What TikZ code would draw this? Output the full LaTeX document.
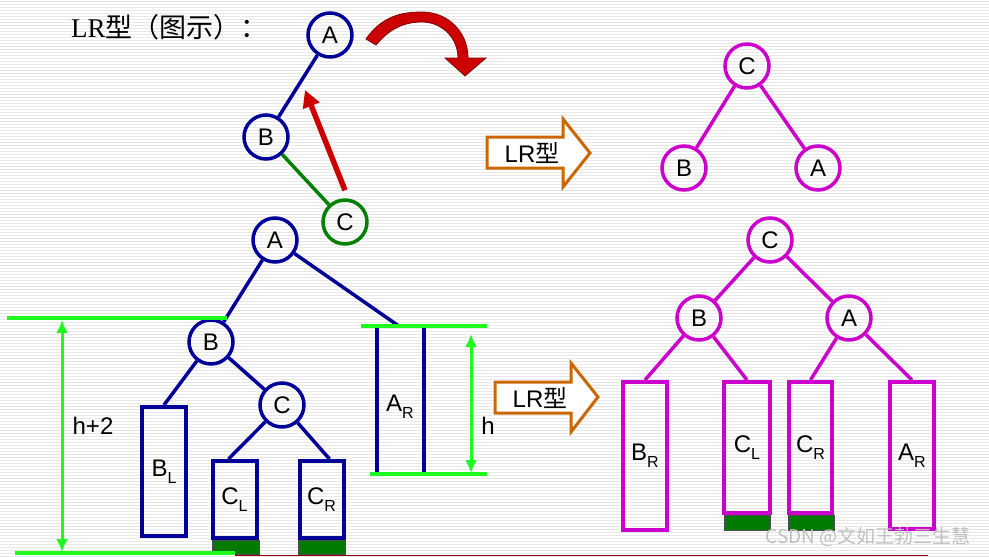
\documentclass[tikz,border=0pt]{standalone}
\usepackage{fontspec}
\setmainfont{Liberation Sans}
\newfontfamily\serifl{Liberation Serif}
\newfontfamily\cjk{Noto Sans CJK SC}
\usetikzlibrary{arrows.meta}
\definecolor{navy}{RGB}{0,0,153}
\definecolor{dgreen}{RGB}{0,128,0}
\definecolor{fgreen}{RGB}{0,122,0}
\definecolor{lime}{RGB}{30,250,30}
\definecolor{orng}{RGB}{204,102,0}
\definecolor{mag}{RGB}{204,0,204}
\definecolor{redd}{RGB}{204,0,0}
\definecolor{dred}{RGB}{130,0,0}
\newcommand\lbl{\fontsize{24}{26}\selectfont}
\newcommand\sbs[1]{\raisebox{-0.28em}{\fontsize{16}{16}\selectfont #1}}
\tikzset{
  bcirc/.style={circle, draw=navy, line width=3.5pt, minimum size=44pt, inner sep=0pt, font=\lbl},
  gcirc/.style={bcirc, draw=dgreen},
  mcirc/.style={bcirc, draw=mag},
  bbox/.style={rectangle, draw=navy, line width=4pt, inner sep=0pt, font=\lbl},
  mbox/.style={rectangle, draw=mag, line width=4pt, inner sep=0pt, font=\lbl},
  bedge/.style={navy, line width=3.5pt},
  medge/.style={mag, line width=3.5pt},
  dimline/.style={lime, line width=3.5pt},
  dimarrow/.style={lime, line width=3pt, {Latex[length=13pt,width=12pt]}-{Latex[length=13pt,width=12pt]}},
  fillbar/.style={fill=fgreen, draw=black!70, line width=0.8pt},
  orarrow/.style={draw=orng, line width=3pt, fill=white},
}
\begin{document}
\begin{tikzpicture}[x=1pt,y=-1pt]
\useasboundingbox (0,0) rectangle (989,557);
\fill[white] (0,0) rectangle (989,557);
\foreach \yy in {1,4,...,557} \draw[black!9, line width=1pt] (0,\yy) -- (989,\yy);

% title
\node[anchor=west, font=\fontsize{27}{29}\selectfont, inner sep=0pt] (title) at (71,27) {{\serifl LR}{\cjk 型（图示）：}};

% top-left tree
\node[bcirc] (A1) at (330,35) {A};
\node[bcirc] (B1) at (266,137) {B};
\node[gcirc] (C1) at (345,222) {C};
\draw[bedge] (A1) -- (B1);
\draw[dgreen, line width=3.5pt] (B1) -- (C1);
\coordinate (rt) at (305,90);
\draw[redd, line width=5.5pt, -{Triangle[length=17pt,width=17pt]}] (C1.north) ++(0,-8) coordinate (rs) (rs) -- (rt);

% curved red arrow
\filldraw[fill=redd, draw=dred, line width=0.8pt]
  (366,39) .. controls (382,16) and (402,12) .. (422,12)
  .. controls (448,12) and (468,32) .. (468,58)
  -- (486,58) -- (465,76) -- (445,58) -- (458,58)
  .. controls (458,38) and (442,22) .. (422,22)
  .. controls (405,22) and (390,28) .. (376,45) -- cycle;

% LR arrows
\draw[orarrow] (487,137) -- (563,137) -- (563,119) -- (590,153) -- (563,187) -- (563,168) -- (487,168) -- cycle;
\node[font=\fontsize{24}{26}\selectfont, inner sep=0pt] (lr1) at (532,153) {LR{\cjk 型}};
\draw[orarrow] (495,382) -- (571,382) -- (571,363) -- (598,397) -- (571,432) -- (571,413) -- (495,413) -- cycle;
\node[font=\fontsize{24}{26}\selectfont, inner sep=0pt] (lr2) at (540,398) {LR{\cjk 型}};

% bottom-left tree
\node[bcirc] (A2) at (275,240) {A};
\node[bcirc] (B2) at (211,342) {B};
\node[bcirc] (C2) at (282,405) {C};
\draw[fillbar] (212,540) rectangle (259,554);
\draw[fillbar] (298,540) rectangle (345,554);
\node[bbox, minimum width=44pt, minimum height=129pt] (bl) at (164,471.5) {B\sbs{L}};
\node[bbox, minimum width=44pt, minimum height=77pt] (cl) at (234.5,499.5) {C\sbs{L}};
\node[bbox, minimum width=44pt, minimum height=77pt] (cr) at (321.5,499.5) {C\sbs{R}};
\node[rectangle, minimum width=47pt, minimum height=148pt, inner sep=0pt] (ar) at (400.5,400) {};
\node[font=\lbl, inner sep=0pt] (arl) at (400,407) {A\sbs{R}};
\draw[navy, line width=3.5pt] (ar.north west) -- (ar.south west);
\draw[navy, line width=3.5pt] (ar.north east) -- (ar.south east);
\draw[bedge] (A2) -- (B2);
\draw[bedge] (A2) -- ([xshift=-2pt]ar.north);
\draw[bedge] (B2) -- (bl.north);
\draw[bedge] (B2) -- (C2);
\draw[bedge] (C2) -- ([xshift=-6pt]cl.north);
\draw[bedge] (C2) -- ([xshift=8pt]cr.north);

% dimensions
\coordinate (t1) at (7,318); \coordinate (t2) at (227,318);
\coordinate (b1) at (15,553); \coordinate (b2) at (235,553);
\draw[dimline] (t1) -- (t2);
\draw[dimline] (b1) -- (b2);
\coordinate (d1) at (62,320); \coordinate (d2) at (62,552);
\draw[dimarrow] (d1) -- (d2);
\node[font=\lbl, inner sep=0pt] (hh2) at (93,426) {h+2};
\coordinate (t3) at (361,326); \coordinate (t4) at (487,326);
\coordinate (b3) at (370,474); \coordinate (b4) at (487,474);
\draw[dimline] (t3) -- (t4);
\draw[dimline] (b3) -- (b4);
\coordinate (d3) at (471,334); \coordinate (d4) at (471,473);
\draw[dimarrow] (d3) -- (d4);
\node[font=\lbl, inner sep=0pt] (hh) at (488,426) {h};

% bottom red line
\coordinate (r1) at (235,555.5); \coordinate (r2) at (928,555.5);
\draw[dred, line width=1.3pt] (r1) -- (r2);

% top-right tree
\node[mcirc] (C3) at (747,66) {C};
\node[mcirc] (B3) at (684,168) {B};
\node[mcirc] (A3) at (818,168) {A};
\draw[medge] (C3) -- (B3);
\draw[medge] (C3) -- (A3);

% bottom-right tree
\node[mcirc] (C4) at (770,240) {C};
\node[mcirc] (B4) at (699,318) {B};
\node[mcirc] (A4) at (849,318) {A};
\draw[fillbar] (724,515) rectangle (770,530);
\draw[fillbar] (788,515) rectangle (834,530);
\node[mbox, minimum width=44pt, minimum height=148pt] (br4) at (645,456) {B\sbs{R}};
\node[mbox, minimum width=46pt, minimum height=131pt] (cl4) at (747,447.5) {C\sbs{L}};
\node[mbox, minimum width=43pt, minimum height=131pt] (cr4) at (810.5,447.5) {C\sbs{R}};
\node[mbox, minimum width=44pt, minimum height=147pt] (ar4) at (912,455.5) {A\sbs{R}};
\draw[medge] (C4) -- (B4);
\draw[medge] (C4) -- (A4);
\draw[medge] (B4) -- (br4.north);
\draw[medge] (B4) -- (cl4.north);
\draw[medge] (A4) -- (cr4.north);
\draw[medge] (A4) -- (ar4.north);

% watermark
\node[font=\cjk\fontsize{19}{21}\selectfont, text=black!25, inner sep=0pt] (wm) at (868,537) {CSDN @文如王勃三生慧};
\end{tikzpicture}
\end{document}
